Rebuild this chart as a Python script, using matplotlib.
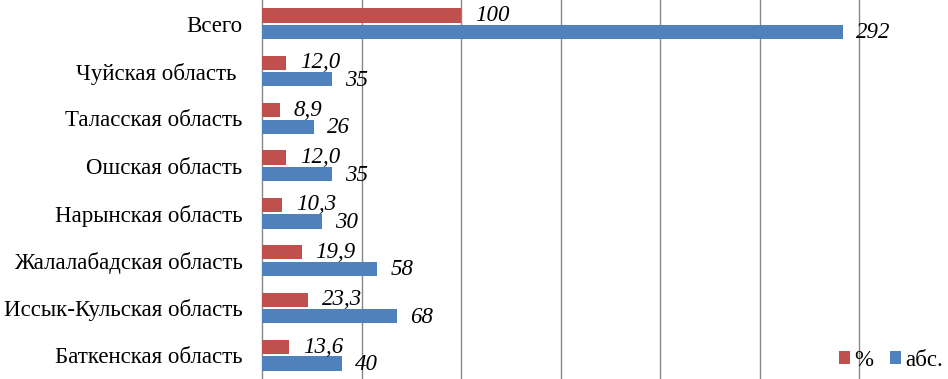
import matplotlib
matplotlib.use("Agg")
import matplotlib.pyplot as plt
import numpy as np

# categories from bottom to top
regions = ["Баткенская область", "Иссык-Кульская область", "Жалалабадская область",
           "Нарынская область", "Ошская область", "Таласская область",
           "Чуйская область ", "Всего"]
pct = [13.6, 23.3, 19.9, 10.3, 12.0, 8.9, 12.0, 100]
pct_labels = ["13,6", "23,3", "19,9", "10,3", "12,0", "8,9", "12,0", "100"]
abs_vals = [40, 68, 58, 30, 35, 26, 35, 292]

red = "#C0504D"
blue = "#4F81BD"

plt.rcParams['font.family'] = ['Liberation Serif', 'DejaVu Serif']
fs = 16.5

fig = plt.figure(figsize=(9.48, 3.79), dpi=100)
ax = fig.add_axes([262/948, 0, 1 - 262/948, 1])

y = np.arange(len(regions))
h = 0.3
off = 0.175
ax.barh(y + off, pct, height=h, color=red, label="%", zorder=3)
ax.barh(y - off, abs_vals, height=h, color=blue, label="абс.", zorder=3)

for i in range(len(regions)):
    ax.annotate(pct_labels[i], (pct[i], y[i] + off), xytext=(10, 0), textcoords="offset points",
                ha="left", va="center", fontsize=fs, style="italic", zorder=4)
    ax.annotate(str(abs_vals[i]), (abs_vals[i], y[i] - off - 0.02), xytext=(9.5, 0), textcoords="offset points",
                ha="left", va="center", fontsize=fs, style="italic", zorder=4)

ax.set_xlim(0, 344.7)
ax.set_ylim(-0.5, 7.5)
ax.set_xticks(np.arange(50, 350, 50))
ax.xaxis.grid(True, color="#868686", linewidth=1.0, zorder=0)
ax.tick_params(axis="x", length=0, labelbottom=False)
ax.set_yticks(y)
ax.set_yticklabels(regions, fontsize=fs)
ax.tick_params(axis="y", length=0, pad=14)
for s in ["top", "right", "bottom"]:
    ax.spines[s].set_visible(False)
ax.spines["left"].set_color("#868686")
ax.spines["left"].set_linewidth(1.0)

ax.legend(loc="lower right", bbox_to_anchor=(1.005, 0.0), ncol=2, frameon=False, fontsize=fs,
          handlelength=0.5, handleheight=0.5, handletextpad=0.2, columnspacing=0.7,
          borderaxespad=0.15, borderpad=0.2)

fig.savefig("out.png", dpi=100)
